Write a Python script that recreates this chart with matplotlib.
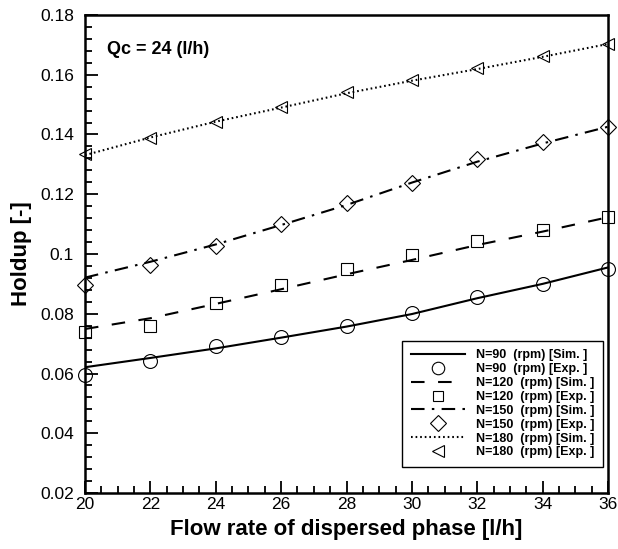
import matplotlib
matplotlib.use("Agg")
import matplotlib.pyplot as plt
from matplotlib.ticker import MultipleLocator

# flow rate of dispersed phase [l/h]
flow = [20, 22, 24, 26, 28, 30, 32, 34, 36]

# simulation curves
sim_90 = [0.0621, 0.0652, 0.0684, 0.0720, 0.0757, 0.0799, 0.0852, 0.0900, 0.0955]
sim_120 = [0.0749, 0.0785, 0.0833, 0.0882, 0.0932, 0.0980, 0.1030, 0.1075, 0.1123]
sim_150 = [0.0921, 0.0974, 0.1032, 0.1097, 0.1164, 0.1239, 0.1309, 0.1370, 0.1426]
sim_180 = [0.1331, 0.1390, 0.1443, 0.1490, 0.1538, 0.1580, 0.1619, 0.1660, 0.1703]

# experimental points
exp_90 = [0.0595, 0.0642, 0.0692, 0.0721, 0.0759, 0.0804, 0.0855, 0.0900, 0.0949]
exp_120 = [0.0740, 0.0759, 0.0837, 0.0896, 0.0949, 0.0997, 0.1044, 0.1080, 0.1125]
exp_150 = [0.0896, 0.0963, 0.1027, 0.1099, 0.1172, 0.1239, 0.1317, 0.1376, 0.1426]
exp_180 = [0.1335, 0.1387, 0.1443, 0.1491, 0.1543, 0.1582, 0.1624, 0.1663, 0.1703]

speeds = ["90", "120", "150", "180"]

BOLD = ["Liberation Sans Narrow", "Liberation Sans", "DejaVu Sans"]
plt.rcParams["font.family"] = ["Liberation Sans", "DejaVu Sans"]

fig = plt.figure(figsize=(6.18, 5.49), dpi=100)
ax = fig.add_axes([85 / 618, 1 - 493 / 549, 523 / 618, 478 / 549])

line_styles = [
    "-",
    (0, (6.5, 6.5)),
    (0, (6.5, 3.5, 1.2, 3.5)),
    (0, (0.8, 1.4)),
]
markers = ["o", "s", "D", "<"]
msizes = [10, 8, 8.5, 9]
sims = [sim_90, sim_120, sim_150, sim_180]
exps = [exp_90, exp_120, exp_150, exp_180]

handles = []
labels = []
for n, ls, mk, ms, s, e in zip(speeds, line_styles, markers, msizes, sims, exps):
    (h1,) = ax.plot(flow, s, color="black", linestyle=ls, linewidth=1.5, zorder=2)
    (h2,) = ax.plot(flow, e, linestyle="none", marker=mk, markersize=ms,
                    markerfacecolor="none", markeredgecolor="black",
                    markeredgewidth=0.8, clip_on=False, zorder=3)
    handles += [h1, h2]
    labels += [f"N={n}  (rpm) [Sim. ]", f"N={n}  (rpm) [Exp. ]"]

ax.set_xlim(20, 36)
ax.set_ylim(0.02, 0.18)
ax.xaxis.set_major_locator(MultipleLocator(2))
ax.xaxis.set_minor_locator(MultipleLocator(0.5))
ax.yaxis.set_major_locator(MultipleLocator(0.02))
ax.yaxis.set_minor_locator(MultipleLocator(0.004))
ax.yaxis.set_major_formatter(plt.FuncFormatter(
    lambda v, p: "0.1" if abs(v - 0.1) < 1e-9 else f"{v:.2f}"))

ax.tick_params(which="both", direction="in", top=False, right=False,
               labelsize=12.5, width=1.3)
ax.tick_params(which="major", length=9)
ax.tick_params(which="minor", length=5)
ax.tick_params(axis="y", which="major", pad=8)
ax.tick_params(axis="x", which="major", pad=3)
for sp in ax.spines.values():
    sp.set_linewidth(1.8)

ax.set_xlabel("Flow rate of dispersed phase [l/h]", fontsize=16,
              fontweight="bold", family=BOLD, labelpad=5)
ax.set_ylabel("Holdup [-]", fontsize=16, fontweight="bold", family=BOLD,
              labelpad=6)

ax.text(0.042, 0.928, "Qc = 24 (l/h)", transform=ax.transAxes, fontsize=13,
        fontweight="bold", family=BOLD, va="center", ha="left")

leg = ax.legend(handles, labels, loc="lower right",
                bbox_to_anchor=(0.99, 0.054), frameon=True, fancybox=False,
                edgecolor="black", framealpha=1, borderaxespad=0,
                handlelength=4.3, handletextpad=0.85, labelspacing=0.15,
                borderpad=0.7, markerscale=0.9,
                prop={"family": BOLD, "weight": "bold", "size": 9})
leg.get_frame().set_linewidth(1.0)

fig.savefig("out.png", dpi=100)
